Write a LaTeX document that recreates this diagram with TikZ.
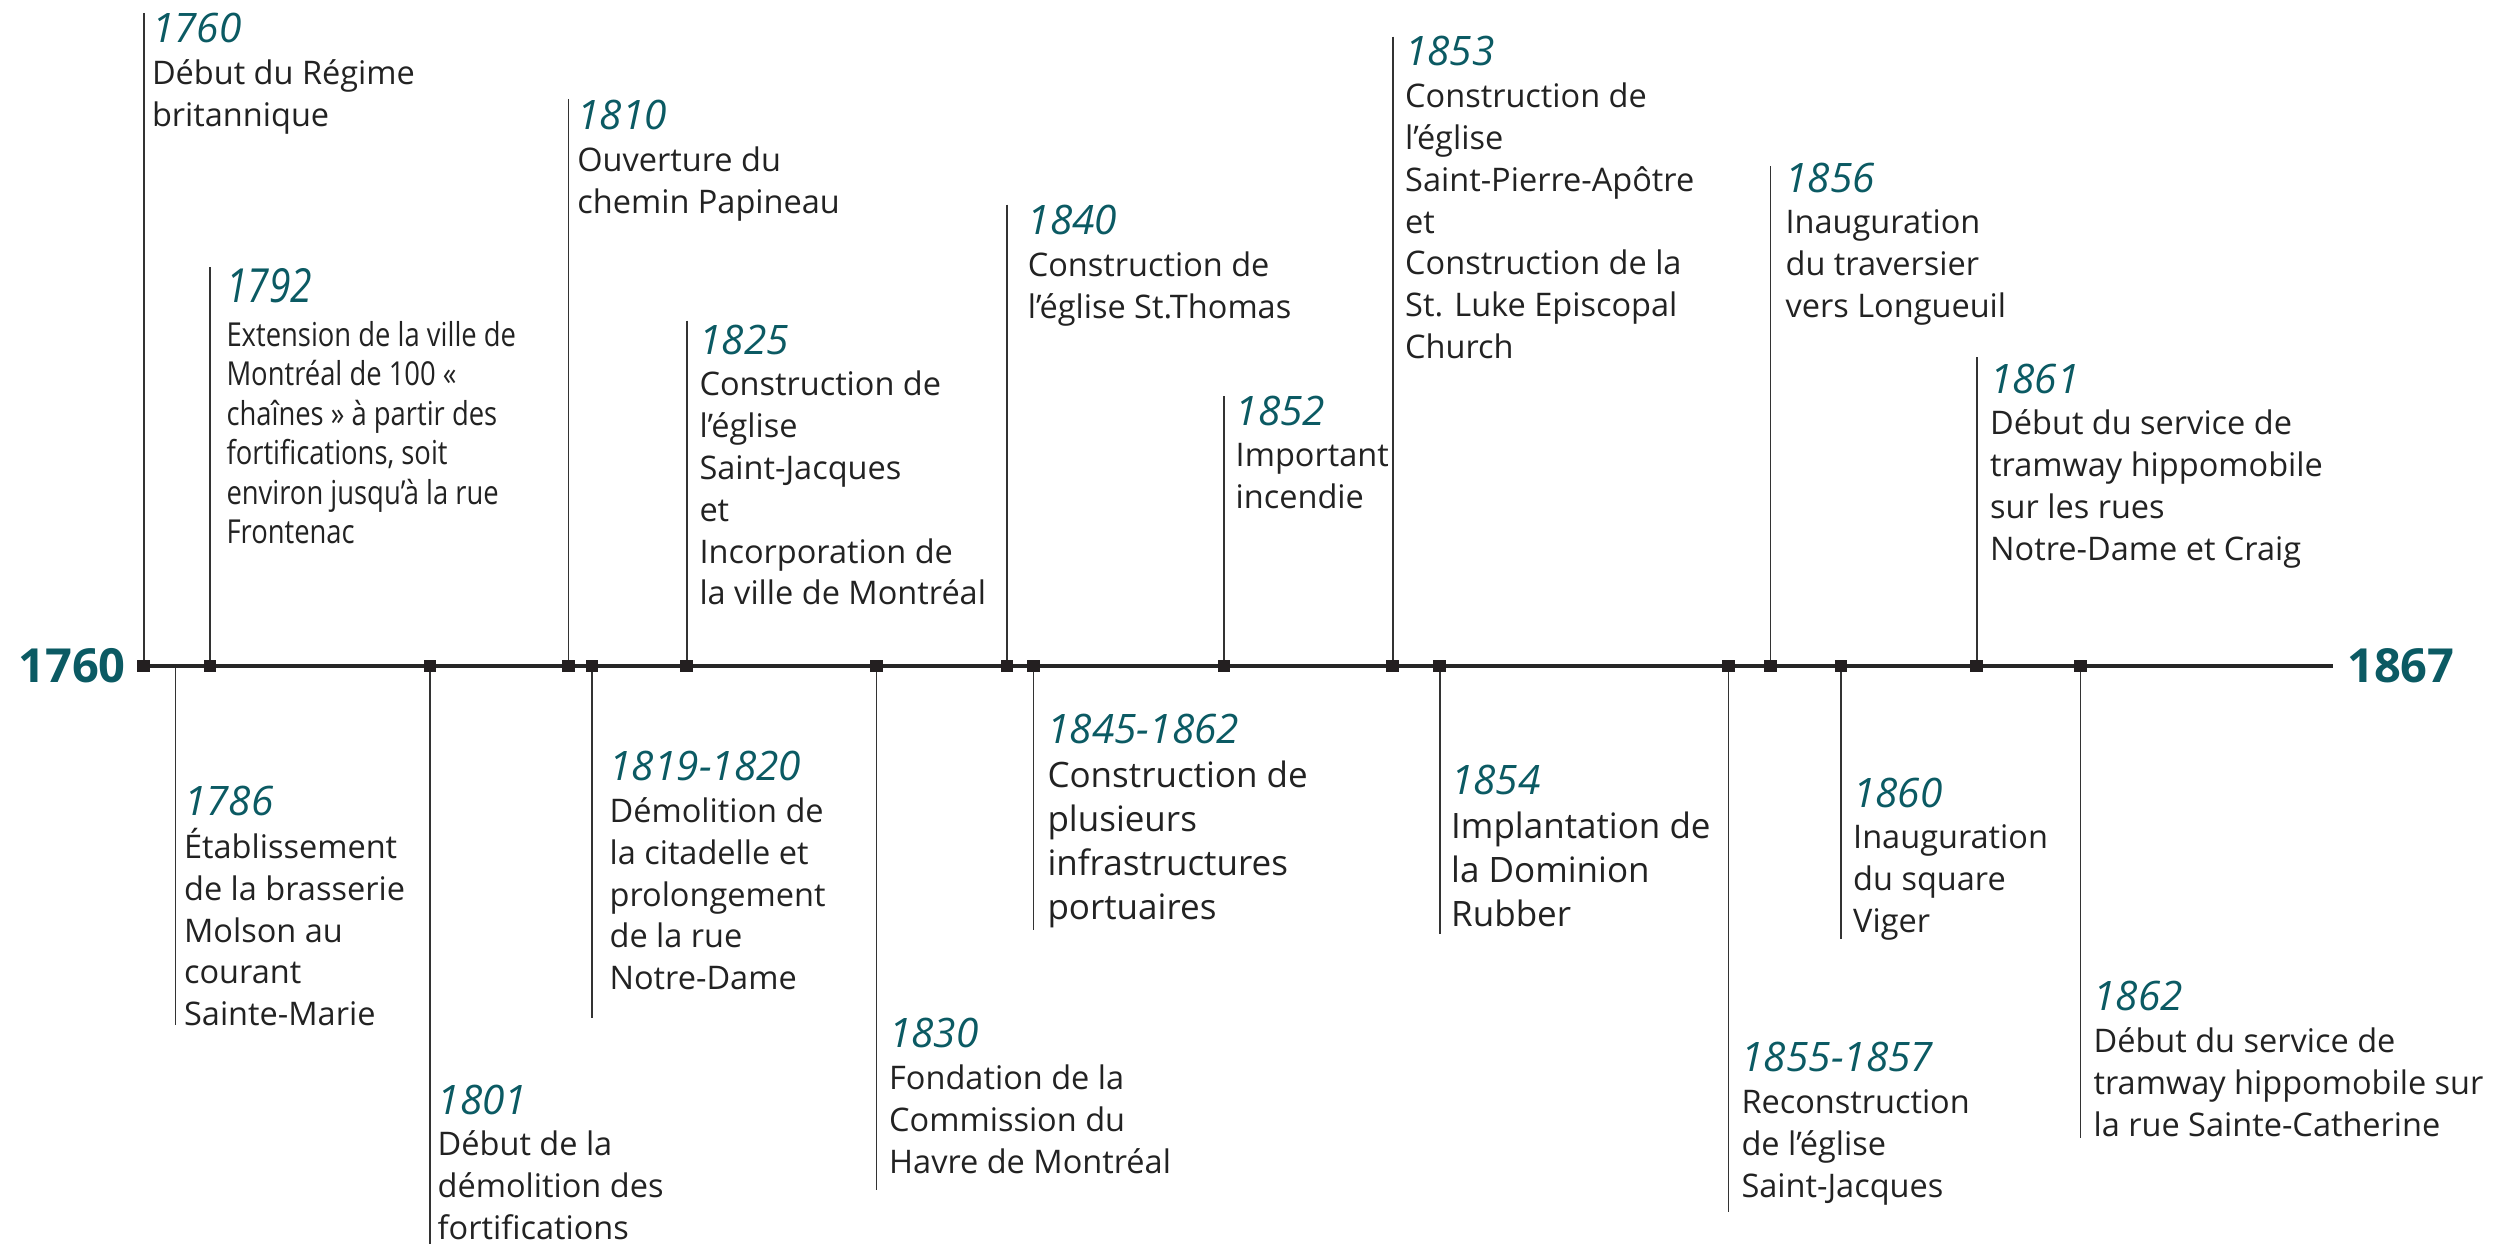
\documentclass[tikz,border=0pt]{standalone}
\usepackage{fontspec}
\setmainfont{Open Sans}
\usepackage{graphicx}
\definecolor{yrteal}{HTML}{0B5A63}
\definecolor{txtc}{HTML}{222222}
\definecolor{lnc}{HTML}{333333}
\definecolor{axc}{HTML}{262626}
\definecolor{sqc}{HTML}{231F20}
\newcommand\yeartxt[1]{{\fontsize{40.6}{41.8}\selectfont\itshape\color{yrteal}#1}}
\newcommand\evtext[4]{\fontsize{#1}{#2}\selectfont\begin{tabular}[t]{@{}l@{}}\yeartxt{#3}\\#4\end{tabular}}
\begin{document}
\begin{tikzpicture}[x=1pt,y=-1pt,
  sq/.style={rectangle, fill=sqc, draw=none, minimum size=12.5pt, inner sep=0pt},
  vline/.style={draw=lnc, line width=1.6pt},
  axisline/.style={draw=axc, line width=3.3pt},
  evt/.style={anchor=base west, inner sep=0pt, text=txtc},
  endlab/.style={inner sep=0pt, text=yrteal, font=\fontsize{47}{47}\selectfont\bfseries}]
\useasboundingbox (0,0) rectangle (2495,1244);

% axis
\coordinate (ax0) at (143.7,666);
\coordinate (ax1) at (2333,666);
\draw[axisline] (ax0) -- (ax1);
\node[endlab, anchor=base east] (start) at (125.9,682) {1760};
\node[endlab, anchor=base west] (end) at (2347,682) {1867};

% tick squares
\foreach \n/\x in {1760/143.7, 1792/209.8, 1801/429.9, 1810/568.3, 1819/592, 1825/686.7,
  1830/876.5, 1840/1006.9, 1845/1033.5, 1852/1224, 1853/1392.7, 1854/1439.7,
  1855/1728.5, 1856/1770.5, 1860/1840.9, 1861/1976.7, 1862/2080.6}
  \node[sq] (s\n) at (\x,666) {};

% connectors above the axis
\foreach \n/\x/\y in {1760/143.7/13, 1792/209.8/267, 1810/568.3/99, 1825/686.7/320.5,
  1840/1006.9/204.5, 1852/1224/396, 1853/1392.7/36.6, 1856/1770.5/166, 1861/1976.7/357}
  {\coordinate (c\n) at (\x,\y); \draw[vline] (c\n) -- (s\n);}

% connectors below the axis
\foreach \n/\x/\y in {1801/429.9/1244, 1819/592/1018, 1830/876.5/1190, 1845/1033.5/930,
  1854/1439.7/933.6, 1855/1728.5/1212, 1860/1840.9/939, 1862/2080.6/1138}
  {\coordinate (c\n) at (\x,\y); \draw[vline] (s\n) -- (c\n);}
\coordinate (a1786) at (175.4,667.6);
\coordinate (c1786) at (175.4,1025);
\draw[vline] (a1786) -- (c1786);

% texts above
\node[evt] (t1760) at (151.8,42.7) {\evtext{32.5}{41.8}{1760}{Début du Régime\\britannique}};
\node[evt] (t1792) at (226.3,302.5) {\scalebox{0.83}[1]{\fontsize{33}{39.5}\selectfont\begin{tabular}[t]{@{}l@{}}{\fontsize{47}{47}\selectfont\itshape\color{yrteal}1792}\\[4pt]Extension de la ville de\\Montréal de 100 «\\chaînes » à partir des\\fortifications, soit\\environ jusqu’à la rue\\Frontenac\end{tabular}}};
\node[evt] (t1810) at (577.2,129.7) {\evtext{32.5}{41.8}{1810}{Ouverture du\\chemin Papineau}};
\node[evt] (t1825) at (699.3,354) {\evtext{32.5}{41.8}{1825}{Construction de\\l’église\\Saint-Jacques\\et\\Incorporation de\\la ville de Montréal}};
\node[evt] (t1840) at (1027.6,234.4) {\evtext{32.5}{41.8}{1840}{Construction de\\l’église St.Thomas}};
\node[evt] (t1852) at (1235.5,425) {\evtext{32.5}{41.8}{1852}{Important\\incendie}};
\node[evt] (t1853) at (1405,66) {\evtext{32.5}{41.8}{1853}{Construction de\\l’église\\Saint-Pierre-Apôtre\\et\\Construction de la\\St. Luke Episcopal\\Church}};
\node[evt] (t1856) at (1785.4,192) {\evtext{32.5}{41.8}{1856}{Inauguration\\du traversier\\vers Longueuil}};
\node[evt] (t1861) at (1990,393) {\evtext{32.5}{41.8}{1861}{Début du service de\\tramway hippomobile\\sur les rues\\Notre-Dame et Craig}};

% texts below
\node[evt] (t1786) at (183.9,815.6) {\evtext{32.5}{41.8}{1786}{Établissement\\de la brasserie\\Molson au\\courant\\Sainte-Marie}};
\node[evt] (t1801) at (437.5,1114) {\evtext{32.5}{41.8}{1801}{Début de la\\démolition des\\fortifications}};
\node[evt] (t1819) at (609.4,780.7) {\evtext{32.5}{41.8}{1819-1820}{Démolition de\\la citadelle et\\prolongement\\de la rue\\Notre-Dame}};
\node[evt] (t1830) at (889,1047.8) {\evtext{32.5}{41.8}{1830}{Fondation de la\\Commission du\\Havre de Montréal}};
\node[evt] (t1845) at (1047.3,743.4) {\evtext{35}{44}{1845-1862}{Construction de\\plusieurs\\infrastructures\\portuaires}};
\node[evt] (t1854) at (1451,794.3) {\evtext{35}{44}{1854}{Implantation de\\la Dominion\\Rubber}};
\node[evt] (t1855) at (1741.3,1071.6) {\evtext{32.5}{41.8}{1855-1857}{Reconstruction\\de l’église\\Saint-Jacques}};
\node[evt] (t1860) at (1853,807) {\evtext{32.5}{41.8}{1860}{Inauguration\\du square\\Viger}};
\node[evt] (t1862) at (2093.4,1010.8) {\evtext{32.5}{41.8}{1862}{Début du service de\\tramway hippomobile sur\\la rue Sainte-Catherine}};
\end{tikzpicture}
\end{document}
